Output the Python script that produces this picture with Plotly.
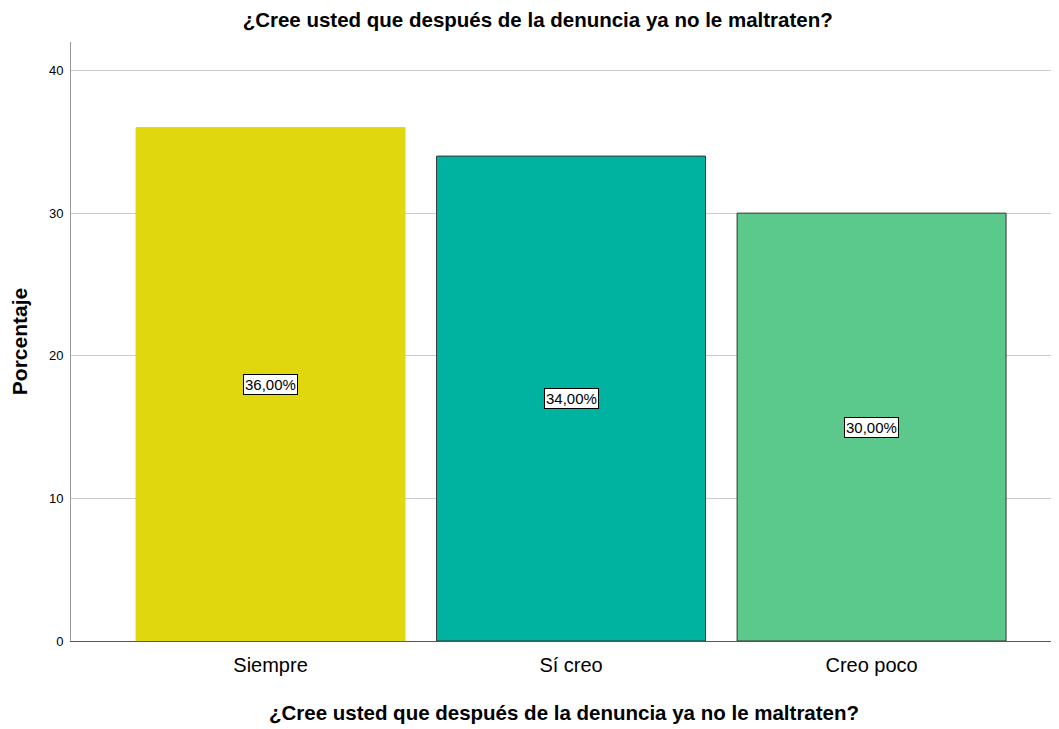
import plotly.graph_objects as go

categories = ["Siempre", "Sí creo", "Creo poco"]
values = [36.0, 34.0, 30.0]
labels = ["36,00%", "34,00%", "30,00%"]
colors = ["#E1D70F", "#00B3A0", "#5BC98B"]
outline = ["#E1D70F", "#333333", "#333333"]
title = "¿Cree usted que después de la denuncia ya no le maltraten?"

FONT = "Liberation Sans, Arial"

fig = go.Figure()
fig.add_trace(go.Bar(
    x=list(range(len(categories))), y=values,
    marker=dict(color=colors, line=dict(color=outline, width=1)),
    width=0.895, showlegend=False, hoverinfo="skip",
))
for i, (v, lab) in enumerate(zip(values, labels)):
    fig.add_annotation(x=i, y=v / 2, text=lab, showarrow=False,
                       font=dict(family=FONT, size=15, color="black"),
                       bgcolor="white", bordercolor="black", borderwidth=1, borderpad=1)

fig.update_layout(
    width=1051, height=721,
    margin=dict(l=63, r=2, t=34, b=88),
    plot_bgcolor="white", paper_bgcolor="white",
    title=dict(text="<b>" + title + "</b>", x=0.504, xanchor="center", y=0.983, yanchor="middle",
               font=dict(family=FONT, size=20.5, color="black")),
    font=dict(family=FONT, color="black"),
)
fig.update_xaxes(
    tickvals=list(range(len(categories))), ticktext=categories,
    range=[-0.664, 2.617], showgrid=False, zeroline=False,
    showline=True, linecolor="#555555", linewidth=1,
    ticks="outside", ticklen=6, tickcolor="white",
    tickfont=dict(size=20, family=FONT),
    title=dict(text="<b>" + title + "</b>", font=dict(size=20.5, family=FONT), standoff=30),
)
fig.update_yaxes(
    range=[0, 42], tickvals=[0, 10, 20, 30, 40],
    showgrid=True, gridcolor="#CCCCCC", gridwidth=1, zeroline=False,
    showline=True, linecolor="#999999", linewidth=1,
    ticks="outside", ticklen=4, tickcolor="white",
    tickfont=dict(size=13, family=FONT),
    title=dict(text="<b>Porcentaje</b>", font=dict(size=21), standoff=18),
)
fig.write_html("out.html")
